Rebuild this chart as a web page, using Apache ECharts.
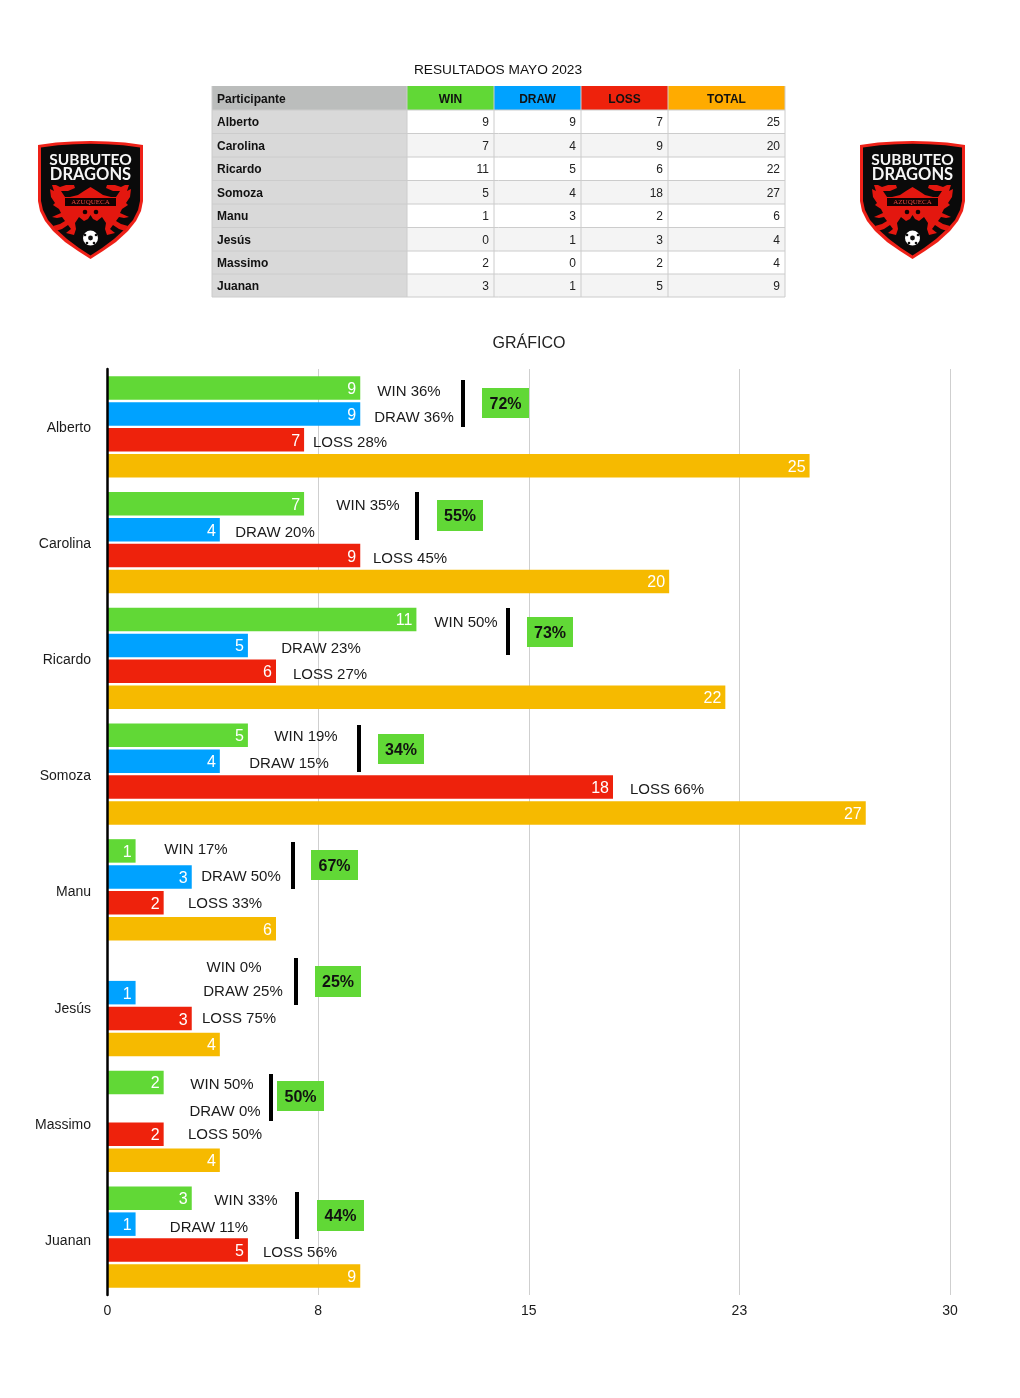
<!DOCTYPE html>
<html>
<head>
<meta charset="utf-8">
<style>html,body{margin:0;padding:0;background:#fff}#c{width:1020px;height:1398px}</style>
<script src="https://cdn.jsdelivr.net/npm/echarts@6/dist/echarts.min.js"></script>
</head>
<body>
<div id="c"></div>
<script>
const players = ['Alberto','Carolina','Ricardo','Somoza','Manu','Jesús','Massimo','Juanan'];
const win   = [9,7,11,5,1,0,2,3];
const draw  = [9,4,5,4,3,1,0,1];
const loss  = [7,9,6,18,2,3,2,5];
const total = [25,20,22,27,6,4,4,9];
const winPct  = ['36%','35%','50%','19%','17%','0%','50%','33%'];
const drawPct = ['36%','20%','23%','15%','50%','25%','0%','11%'];
const lossPct = ['28%','45%','27%','66%','33%','75%','50%','56%'];
const sumPct  = ['72%','55%','73%','34%','67%','25%','50%','44%'];
const xTicks = [0,7.5,15,22.5,30];

const FONT = '"Liberation Sans", Arial, sans-serif';
const C = {win:'#61d836',draw:'#00a2ff',loss:'#ee220c',total:'#f6ba00',head:'#ffab00',ink:'#1a1a1a'};

/* annotation layout: [winX,winY, drawX,drawY, lossX,lossY, lineX,lineY0,lineY1, boxX0,boxX1,boxY0,boxY1] */
const layout = [
 [409,391, 414,417, 350,442, 463,380,427, 482,529,388,418],
 [368,505, 275,532, 410,558, 417,492,540, 437,483,500,531],
 [466,622, 321,648, 330,674, 508,608,655, 527,573,617,647],
 [306,736, 289,763, 667,789, 359,725,772, 378,424,734,764],
 [196,849, 241,876, 225,903, 293,842,889, 311,358,850,880],
 [234,967, 243,991, 239,1018,296,958,1005,315,361,966,997],
 [222,1084,225,1111,225,1134,271,1074,1121,277,324,1081,1111],
 [246,1200,209,1227,300,1252,297,1192,1239,317,364,1200,1231]
];
const rowLabelY = [426.5,542.5,658.5,774.5,890.5,1007.5,1123.5,1239.5];

function txt(text,x,y,font,fill,align){
  return {type:'text',silent:true,z:20,style:{text:text,x:x,y:y+1.2,font:font,fill:fill||C.ink,align:align||'center',verticalAlign:'middle'}};
}
function rect(x,y,w,h,fill){
  return {type:'rect',silent:true,z:10,shape:{x:x,y:y,width:w,height:h},style:{fill:fill}};
}

/* annotations */
const annos = [];
players.forEach((p,i)=>{
  const L = layout[i], f = '15px '+FONT;
  annos.push(txt(p,91,rowLabelY[i],'14px '+FONT,C.ink,'right'));
  annos.push(txt('WIN '+winPct[i],L[0],L[1],f));
  annos.push(txt('DRAW '+drawPct[i],L[2],L[3],f));
  annos.push(txt('LOSS '+lossPct[i],L[4],L[5],f));
  annos.push(rect(L[6]-2,L[7],4,L[8]-L[7],'#000'));
  annos.push(rect(L[9],L[11],L[10]-L[9],L[12]-L[11],C.win));
  annos.push(txt(sumPct[i],(L[9]+L[10])/2,(L[11]+L[12])/2,'bold 16px '+FONT,'#111'));
});

/* table */
const colX = [212,407,494,581,668,785];
const rowY = [86,110,133.5,157,180.5,204,227.5,251,274,297];
const heads = ['Participante','WIN','DRAW','LOSS','TOTAL'];
const headFill = ['#bbbdbc',C.win,C.draw,C.loss,C.head];
const table = [];
heads.forEach((h,c)=>{
  table.push(rect(colX[c],rowY[0],colX[c+1]-colX[c],rowY[1]-rowY[0],headFill[c]));
  if(c===0) table.push(txt(h,colX[0]+5,98,'bold 12px '+FONT,'#111','left'));
  else table.push(txt(h,(colX[c]+colX[c+1])/2,98,'bold 12px '+FONT,'#111'));
});
players.forEach((p,r)=>{
  const y0=rowY[r+1], y1=rowY[r+2];
  table.push(rect(colX[0],y0,colX[1]-colX[0],y1-y0,'#d9d9d9'));
  table.push(rect(colX[1],y0,colX[5]-colX[1],y1-y0,r%2?'#f4f4f4':'#ffffff'));
  table.push(txt(p,colX[0]+5,(y0+y1)/2,'bold 12px '+FONT,'#111','left'));
  [win,draw,loss,total].forEach((a,c)=>{
    table.push(txt(String(a[r]),colX[c+2]-5,(y0+y1)/2,'12px '+FONT,'#222','right'));
  });
});
rowY.slice(1).forEach(y=>table.push({type:'line',silent:true,z:12,shape:{x1:212,y1:y,x2:785,y2:y},style:{stroke:'#cccccc',lineWidth:1}}));
colX.forEach(x=>table.push({type:'line',silent:true,z:12,shape:{x1:x,y1:86,x2:x,y2:297},style:{stroke:'#cccccc',lineWidth:1}}));

/* logo */
const SHIELD=[[0,4],[18,1.5],[35,0.5],[52.5,0],[70,0.5],[87,1.5],[105,4],[105,60],[103,70],[98,80],[90,90],[78,101],[65,110],[52.5,118],[40,110],[27,101],[15,90],[7,80],[2,70],[0,60]];
const SHIELD_IN=[[3,6.5],[20,4.2],[36,3.2],[52.5,2.8],[69,3.2],[85,4.2],[102,6.5],[102,60],[100,69],[95,79],[87,88],[76,98],[64,107],[52.5,114.5],[41,107],[29,98],[18,88],[10,79],[5,69],[3,60]];
const DRAGON=[[52.5,46],[46,50],[40,54],[32,56],[27,56],[23,50],[30,50],[37,47],[36,44],[28,44],[22,46],[18,44],[14,44],[16,50],[12,48],[13,56],[17,62],[15,64],[21,68],[23,72],[14,76],[19,77],[24,76],[27,80],[22,83],[15,85],[18,90],[24,88],[30,84],[33,88],[28,92],[36,94],[38,88],[37,82],[41,76],[46,80],[50,78],[52.5,74]];
const DRAGON_R=DRAGON.slice().reverse().map(p=>[105-p[0],p[1]]);
function poly(pts,fill){return {type:'polygon',silent:true,z:15,shape:{points:pts},style:{fill:fill}};}
function dot(cx,cy,r,fill,z){return {type:'circle',silent:true,z:z||17,shape:{cx:cx,cy:cy,r:r},style:{fill:fill}};}
function logo(x,y){
  return {type:'group',x:x,y:y,silent:true,z:15,children:[
    poly(SHIELD,'#ee2118'),
    poly(SHIELD_IN,'#0a0a0a'),
    poly(DRAGON.concat(DRAGON_R),'#e3170f'),
    {type:'rect',silent:true,z:16,shape:{x:27,y:57,width:51,height:8},style:{fill:'#120202'}},
    dot(47,71,2.3,'#120202'),dot(58,71,2.3,'#120202'),
    dot(52.5,97,7.5,'#fff',16),dot(52.5,97,2.4,'#111'),
    dot(47,94,1.3,'#111'),dot(58,94,1.3,'#111'),dot(49,102,1.3,'#111'),dot(56,102,1.3,'#111'),
    {type:'text',silent:true,z:18,style:{text:'SUBBUTEO',x:52.5,y:19,font:'bold 15.5px Lato, '+FONT,fill:'#f5f5f5',align:'center',verticalAlign:'middle'}},
    {type:'text',silent:true,z:18,style:{text:'DRAGONS',x:52.5,y:33.5,font:'bold 16.5px Lato, '+FONT,fill:'#f5f5f5',align:'center',verticalAlign:'middle'}},
    {type:'text',silent:true,z:18,style:{text:'AZUQUECA',x:52.5,y:61,font:'7px "Liberation Serif", serif',fill:'#e3473f',align:'center',verticalAlign:'middle'}}
  ]};
}

function barSeries(name,data,color){
  return {
    name:name,type:'bar',data:data,barWidth:23.5,barGap:'10.5%',
    itemStyle:{color:color},
    emphasis:{disabled:true},
    label:{show:true,position:'insideRight',distance:4,offset:[0,1.5],color:'#fff',fontSize:16,fontFamily:FONT,
      formatter:p=>p.value?String(p.value):''}
  };
}

const chart = echarts.init(document.getElementById('c'),null,{renderer:'canvas'});
chart.setOption({
  animation:false,
  backgroundColor:'#fff',
  grid:{left:107.5,top:369,width:842.5,height:926,containLabel:false},
  xAxis:{
    type:'value',min:xTicks[0],max:xTicks[xTicks.length-1],interval:xTicks[1]-xTicks[0],
    axisLine:{show:false},axisTick:{show:false},
    splitLine:{show:true,lineStyle:{color:'#cfcfcf',width:1}},
    axisLabel:{margin:9,fontSize:14,color:C.ink,fontFamily:FONT,formatter:v=>String(Math.round(v))}
  },
  yAxis:{
    type:'category',data:players,inverse:true,
    axisLine:{show:true,lineStyle:{color:'#000',width:2.5}},
    axisTick:{show:false},
    axisLabel:{show:false},
    z:5
  },
  series:[
    barSeries('WIN',win,C.win),
    barSeries('DRAW',draw,C.draw),
    barSeries('LOSS',loss,C.loss),
    barSeries('TOTAL',total,C.total)
  ],
  graphic:{elements:[
    txt('RESULTADOS MAYO 2023',498,69.5,'13.7px '+FONT,'#111'),
    txt('GRÁFICO',529,342,'16px '+FONT,'#222'),
    logo(38,141),
    logo(860,141)
  ].concat(table,annos)}
});
</script>
</body>
</html>
